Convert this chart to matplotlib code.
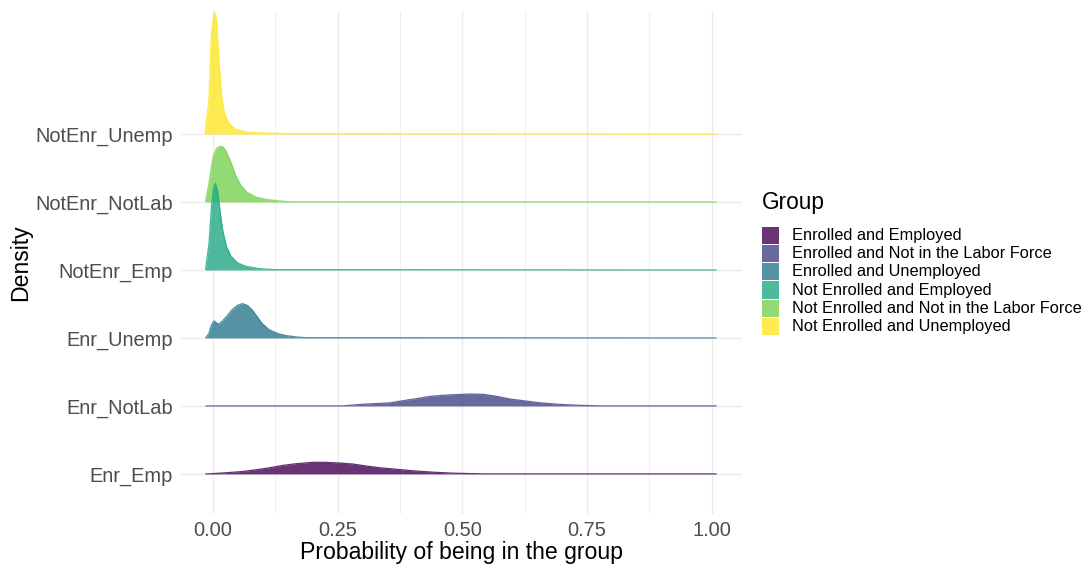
import matplotlib
matplotlib.use("Agg")
import matplotlib.pyplot as plt
from matplotlib.patches import Rectangle
import numpy as np

plt.rcParams['font.family'] = ['Liberation Sans', 'DejaVu Sans']

categories = ["Enr_Emp", "Enr_NotLab", "Enr_Unemp", "NotEnr_Emp", "NotEnr_NotLab", "NotEnr_Unemp"]
legend_labels = ["Enrolled and Employed", "Enrolled and Not in the Labor Force",
                 "Enrolled and Unemployed", "Not Enrolled and Employed",
                 "Not Enrolled and Not in the Labor Force", "Not Enrolled and Unemployed"]
colors = ["#440154", "#414487", "#2A788E", "#22A884", "#7AD151", "#FDE725"]

# ridge profiles (x = probability, h = scaled density height)
enr_emp_x = [-0.015, -0.008, 0.032, 0.059, 0.086, 0.113, 0.14, 0.167, 0.20, 0.227, 0.254, 0.281,
             0.308, 0.335, 0.368, 0.402, 0.442, 0.483, 0.543, 1.01]
enr_emp_h = [0.0, 0.0, 0.02, 0.035, 0.06, 0.09, 0.125, 0.15, 0.17, 0.17, 0.16, 0.145,
             0.115, 0.09, 0.068, 0.045, 0.025, 0.01, 0.0, 0.0]

enr_notlab_x = [-0.015, 0.259, 0.301, 0.328, 0.355, 0.375, 0.402, 0.435, 0.469, 0.516, 0.543,
                0.57, 0.597, 0.624, 0.657, 0.691, 0.731, 0.778, 1.01]
enr_notlab_h = [0.0, 0.0, 0.025, 0.035, 0.045, 0.07, 0.10, 0.14, 0.16, 0.175, 0.17,
                0.14, 0.10, 0.075, 0.045, 0.025, 0.01, 0.0, 0.0]

enr_unemp_x = [-0.015, -0.008, -0.003, 0.002, 0.005, 0.011, 0.019, 0.029, 0.039, 0.049, 0.059,
               0.069, 0.079, 0.089, 0.099, 0.113, 0.13, 0.147, 0.167, 0.187, 1.01]
enr_unemp_h = [0.0, 0.065, 0.19, 0.25, 0.235, 0.20, 0.25, 0.33, 0.42, 0.48, 0.505,
               0.48, 0.41, 0.31, 0.21, 0.12, 0.065, 0.035, 0.015, 0.004, 0.0]

notenr_emp_x = [-0.015, -0.008, -0.003, 0.001, 0.005, 0.0095, 0.015, 0.020, 0.027, 0.036,
                0.049, 0.066, 0.093, 0.123, 1.01]
notenr_emp_h = [0.0, 0.38, 0.92, 1.21, 1.275, 1.16, 0.82, 0.57, 0.35, 0.206,
                0.107, 0.054, 0.02, 0.005, 0.0]

notenr_notlab_x = [-0.015, -0.008, -0.003, 0.001, 0.006, 0.011, 0.0155, 0.020, 0.0255, 0.0305,
                   0.0357, 0.0457, 0.056, 0.069, 0.086, 0.106, 0.133, 0.157, 1.01]
notenr_notlab_h = [0.0, 0.27, 0.52, 0.68, 0.77, 0.81, 0.82, 0.81, 0.76, 0.68,
                   0.59, 0.39, 0.245, 0.14, 0.074, 0.04, 0.015, 0.003, 0.0]

notenr_unemp_x = [-0.016, -0.008, -0.003, 0.003, 0.007, 0.012, 0.0175, 0.023, 0.032, 0.046,
                  0.066, 0.106, 0.167, 1.01]
notenr_unemp_h = [0.0, 0.5, 1.48, 1.80, 1.68, 1.09, 0.55, 0.30, 0.157, 0.07,
                  0.03, 0.015, 0.005, 0.0]

ridges_x = [enr_emp_x, enr_notlab_x, enr_unemp_x, notenr_emp_x, notenr_notlab_x, notenr_unemp_x]
ridges_h = [enr_emp_h, enr_notlab_h, enr_unemp_h, notenr_emp_h, notenr_notlab_h, notenr_unemp_h]

W, H = 1091, 568
fig = plt.figure(figsize=(W / 100, H / 100), dpi=100)
pl, pr, pt, pb = 180, 742, 11, 514
ax = fig.add_axes([pl / W, 1 - pb / H, (pr - pl) / W, (pb - pt) / H])

for i, (xs, hs) in enumerate(zip(ridges_x, ridges_h)):
    base = i + 1
    xs = np.asarray(xs)
    ys = base + np.asarray(hs)
    z = 10 - i
    ax.fill_between(xs, base, ys, color=colors[i], alpha=0.8, linewidth=0, zorder=z)
    ax.plot(xs, ys, color=colors[i], alpha=0.8, lw=0.9, zorder=z + 0.1,
            solid_capstyle='butt', solid_joinstyle='round')

ax.set_xlim(-0.066, 1.061)
ax.set_ylim(0.41, 7.81)
ax.set_xticks([0, 0.25, 0.5, 0.75, 1.0])
ax.set_xticklabels(["0.00", "0.25", "0.50", "0.75", "1.00"])
ax.set_xticks([0.125, 0.375, 0.625, 0.875], minor=True)
ax.set_yticks(range(1, 7))
ax.set_yticklabels(categories)
ax.tick_params(axis='both', which='both', length=0, labelsize=14.4, labelcolor='#4D4D4D')
ax.tick_params(axis='y', pad=5)
ax.tick_params(axis='x', pad=5)
ax.grid(True, which='major', color='#EBEBEB', lw=1.0, zorder=0)
ax.grid(True, which='minor', axis='x', color='#EBEBEB', lw=0.6, zorder=0)
ax.set_axisbelow(True)
for s in ax.spines.values():
    s.set_visible(False)

ax.set_xlabel("Probability of being in the group", fontsize=16.6, color='black')
ax.set_ylabel("Density", fontsize=16.6, color='black')
ax.xaxis.set_label_coords((461 - pl) / (pr - pl), (pb - 552) / (pb - pt))
ax.xaxis.label.set_verticalalignment('center')
ax.yaxis.set_label_coords((21 - pl) / (pr - pl), 0.5)
ax.yaxis.label.set_verticalalignment('center')

# legend
fig.text(762 / W, 1 - 203 / H, "Group", fontsize=16.3, ha='left', va='center')
for i, lab in enumerate(legend_labels):
    top = 226.5 + i * 18.3
    fig.patches.append(Rectangle((762 / W, 1 - (top + 17.3) / H), 17.3 / W, 17.3 / H,
                                 transform=fig.transFigure, facecolor=colors[i], alpha=0.8,
                                 edgecolor='none'))
    fig.text(791.5 / W, 1 - (top + 8.8) / H, lab, fontsize=11.8, ha='left', va='center')

fig.savefig("out.png", dpi=100)
